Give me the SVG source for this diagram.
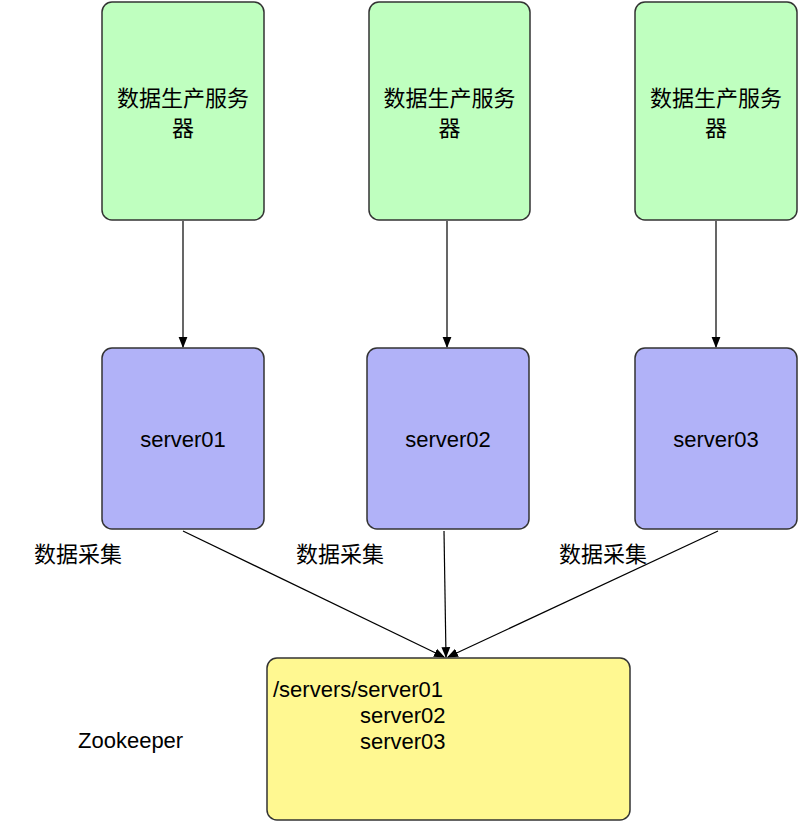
<svg xmlns="http://www.w3.org/2000/svg" width="798" height="822" viewBox="0 0 798 822">
<style>
.box{stroke:#333;stroke-width:1.5}
.g{fill:#bfffbf}
.b{fill:#b1b2f8}
.y{fill:#fff891}
text{font-family:"Liberation Sans","Noto Sans CJK SC",sans-serif;fill:#000}
.cn{font-size:22px}
.en{font-size:22px}
.c{text-anchor:middle}
.ln{stroke:#000;stroke-width:1.2;fill:none;marker-end:url(#ah)}
</style>
<defs>
<marker id="ah" viewBox="0 0 10 10" refX="9" refY="5" markerWidth="11" markerHeight="11" markerUnits="userSpaceOnUse" orient="auto">
<path d="M0,1 L10,5 L0,9 Z" fill="#000"/>
</marker>
</defs>
<rect width="798" height="822" fill="#fff"/>
<g id="connectors">
<line class="ln" x1="183" y1="221" x2="183" y2="347"/>
<line class="ln" x1="447" y1="221" x2="447" y2="347"/>
<line class="ln" x1="716" y1="221" x2="716" y2="347"/>
<line class="ln" x1="183" y1="531" x2="444" y2="657"/>
<line class="ln" x1="444" y1="531" x2="446" y2="657"/>
<line class="ln" x1="718" y1="531" x2="448" y2="657"/>
</g>
<g id="producer1"><rect class="box g" x="102" y="2" width="162" height="218" rx="10"/><text class="cn c" x="183" y="106">数据生产服务</text><text class="cn c" x="183" y="136">器</text></g>
<g id="producer2"><rect class="box g" x="369" y="2" width="161" height="218" rx="10"/><text class="cn c" x="449.5" y="106">数据生产服务</text><text class="cn c" x="449.5" y="136">器</text></g>
<g id="producer3"><rect class="box g" x="635" y="2" width="162" height="218" rx="10"/><text class="cn c" x="716" y="106">数据生产服务</text><text class="cn c" x="716" y="136">器</text></g>
<g id="server01"><rect class="box b" x="102" y="348" width="162" height="181" rx="10"/><text class="en c" x="183" y="447">server01</text></g>
<g id="server02"><rect class="box b" x="367" y="348" width="162" height="181" rx="10"/><text class="en c" x="448" y="447">server02</text></g>
<g id="server03"><rect class="box b" x="635" y="348" width="162" height="181" rx="10"/><text class="en c" x="716" y="447">server03</text></g>
<g id="label1"><text class="cn" x="34" y="562">数据采集</text></g>
<g id="label2"><text class="cn" x="296" y="562">数据采集</text></g>
<g id="label3"><text class="cn" x="559" y="562">数据采集</text></g>
<g id="zookeeper"><rect class="box y" x="267" y="658" width="363" height="162" rx="10"/>
<text class="en" x="273" y="697">/servers/server01</text>
<text class="en" x="360" y="723">server02</text>
<text class="en" x="360" y="749">server03</text></g>
<g id="zk-label"><text class="en" x="78" y="748">Zookeeper</text></g>
</svg>
